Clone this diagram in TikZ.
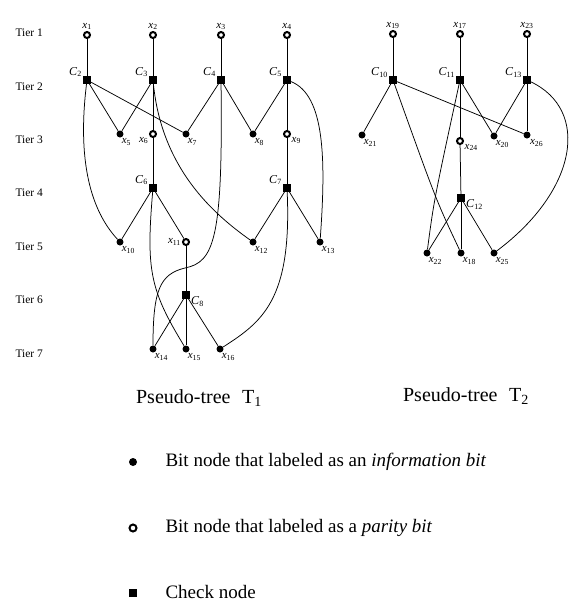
\documentclass[tikz,border=0pt]{standalone}
\usepackage{fontspec}
\setmainfont{Liberation Serif}
\newcommand{\xb}[1]{\textit{x}\textsubscript{#1}}
\newcommand{\cb}[1]{\textit{C}\textsubscript{#1}}
\tikzset{
  info/.style={circle,fill=black,inner sep=0pt,minimum size=7pt},
  parity/.style={circle,draw=black,line width=2pt,fill=white,inner sep=0pt,minimum size=6pt},
  check/.style={rectangle,fill=black,inner sep=0pt,minimum size=7.5pt},
  lbl/.style={font=\fontsize{11}{11}\selectfont,inner sep=1pt},
  clbl/.style={font=\fontsize{12}{12}\selectfont,inner sep=1pt},
  tier/.style={anchor=west,font=\fontsize{11.5}{12}\selectfont},
  legend/.style={anchor=west,font=\fontsize{19}{19}\selectfont},
  edge/.style={line width=0.75pt}
}
\begin{document}
\begin{tikzpicture}[x=1pt,y=-1pt]
\useasboundingbox (0,0) rectangle (574,603);
% tier labels
\foreach \t in {1,...,7}
  \node[tier] (tier\t) at (12,{33+53.4*(\t-1)}) {Tier \t};
% pseudo-tree T1
\node[parity,label={[lbl]90:\xb{1}}] (x1) at (87,35) {};
\node[parity,label={[lbl]90:\xb{2}}] (x2) at (153,35) {};
\node[parity,label={[lbl]90:\xb{3}}] (x3) at (221,35) {};
\node[parity,label={[lbl]90:\xb{4}}] (x4) at (287,35) {};
\node[check,label={[clbl]155:\cb{2}}] (C2) at (87,80) {};
\node[check,label={[clbl]155:\cb{3}}] (C3) at (153,80) {};
\node[check,label={[clbl]155:\cb{4}}] (C4) at (221,80) {};
\node[check,label={[clbl]155:\cb{5}}] (C5) at (287,80) {};
\node[info,label={[lbl]-80:\xb{5}}] (x5) at (120,134) {};
\node[parity,label={[lbl]-150:\xb{6}}] (x6) at (153,134) {};
\node[info,label={[lbl]-80:\xb{7}}] (x7) at (186,134) {};
\node[info,label={[lbl]-80:\xb{8}}] (x8) at (253,134) {};
\node[parity,label={[lbl]-30:\xb{9}}] (x9) at (287,134) {};
\node[check,label={[clbl]155:\cb{6}}] (C6) at (153,188) {};
\node[check,label={[clbl]155:\cb{7}}] (C7) at (287,188) {};
\node[info,label={[lbl]-80:\xb{10}}] (x10) at (120,242) {};
\node[parity,label={[lbl]180:\xb{11}}] (x11) at (186,242) {};
\node[info,label={[lbl]-80:\xb{12}}] (x12) at (253,242) {};
\node[info,label={[lbl]-80:\xb{13}}] (x13) at (320,242) {};
\node[check,label={[clbl]-10:\cb{8}}] (C8) at (186,295) {};
\node[info,label={[lbl]-80:\xb{14}}] (x14) at (153,349) {};
\node[info,label={[lbl]-80:\xb{15}}] (x15) at (186,349) {};
\node[info,label={[lbl]-80:\xb{16}}] (x16) at (220,349) {};
\foreach \a/\b in {x1/C2,x2/C3,x3/C4,x4/C5,C2/x5,C3/x5,C2/x7,C3/x6,x6/C6,
                   C4/x7,C4/x8,C5/x8,C5/x9,x9/C7,C6/x10,C6/x11,C7/x12,C7/x13,
                   x11/C8,C8/x14,C8/x15,C8/x16}
  \draw[edge] (\a) -- (\b);
\draw[edge] (C2) .. controls (76,170) and (95,215) .. (x10);
\draw[edge] (C3) .. controls (162,170) and (215,215) .. (x12);
\draw[edge] (C4) .. controls (223,240) and (214,262) .. (185,268) .. controls (160,274) and (153,290) .. (x14);
\draw[edge] (C5) .. controls (325,95) and (326,160) .. (x13);
\draw[edge] (C6) .. controls (146,270) and (150,290) .. (x15);
\draw[edge] (C7) .. controls (292,300) and (262,322) .. (x16);
% pseudo-tree T2
\node[parity,label={[lbl]90:\xb{19}}] (x19) at (393,34) {};
\node[parity,label={[lbl]90:\xb{17}}] (x17) at (460,34) {};
\node[parity,label={[lbl]90:\xb{23}}] (x23) at (527,34) {};
\node[check,label={[clbl]160:\cb{10}}] (C10) at (393,80) {};
\node[check,label={[clbl]160:\cb{11}}] (C11) at (460,80) {};
\node[check,label={[clbl]160:\cb{13}}] (C13) at (527,80) {};
\node[info,label={[lbl]-80:\xb{21}}] (x21) at (362,135) {};
\node[parity,label={[lbl]-30:\xb{24}}] (x24) at (460,141) {};
\node[info,label={[lbl]-80:\xb{20}}] (x20) at (494,136) {};
\node[info,label={[lbl]-60:\xb{26}}] (x26) at (527,135) {};
\node[check,label={[clbl]-10:\cb{12}}] (C12) at (461,198) {};
\node[info,label={[lbl]-80:\xb{22}}] (x22) at (427,253) {};
\node[info,label={[lbl]-80:\xb{18}}] (x18) at (461,253) {};
\node[info,label={[lbl]-80:\xb{25}}] (x25) at (494,253) {};
\foreach \a/\b in {x19/C10,x17/C11,x23/C13,C10/x21,C10/x26,C11/x20,C11/x24,
                   x24/C12,C13/x20,C13/x26,C12/x22,C12/x18,C12/x25}
  \draw[edge] (\a) -- (\b);
\draw[edge] (C10) .. controls (436,200) .. (x18);
\draw[edge] (C11) .. controls (434,200) .. (x22);
\draw[edge] (C13) .. controls (590,110) and (578,190) .. (x25);
% captions
\node[font=\fontsize{20}{20}\selectfont] (cap1) at (199,398) {Pseudo-tree\,\, T\textsubscript{1}};
\node[font=\fontsize{20}{20}\selectfont] (cap2) at (466,396) {Pseudo-tree\,\, T\textsubscript{2}};
% legend
\node[info,minimum size=8pt] (li) at (133,462) {};
\node[parity,minimum size=7pt] (lp) at (133,528) {};
\node[check,minimum size=8pt] (lc) at (133,593) {};
\node[legend] (ti) at (162,462) {Bit node that labeled as an \textit{information bit}};
\node[legend] (tp) at (162,528) {Bit node that labeled as a \textit{parity bit}};
\node[legend] (tc) at (162,592) {Check node};
\end{tikzpicture}
\end{document}
